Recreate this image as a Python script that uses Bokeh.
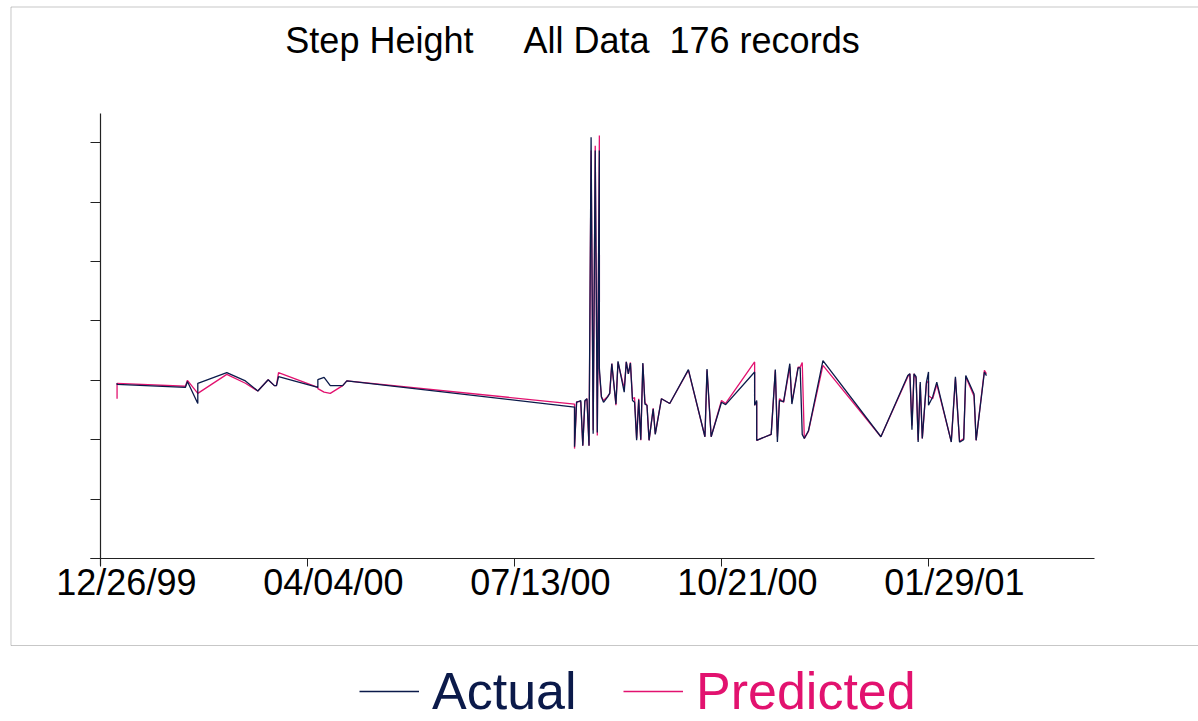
import pandas as pd
from bokeh.plotting import figure
from bokeh.models import (Range1d, LinearAxis, FixedTicker, BoxAnnotation, Label,
                          Legend, LegendItem, ColumnDataSource)
from bokeh.embed import file_html
from bokeh.resources import INLINE

# ---------------- data ----------------
dates = [
    "2000-01-03", "2000-01-03", "2000-02-05", "2000-02-06", "2000-02-11", "2000-02-11",
    "2000-02-25", "2000-03-05", "2000-03-11", "2000-03-16", "2000-03-19", "2000-03-20",
    "2000-03-21", "2000-04-09", "2000-04-09", "2000-04-12", "2000-04-15", "2000-04-21",
    "2000-04-23", "2000-08-11", "2000-08-11", "2000-08-12", "2000-08-14", "2000-08-15",
    "2000-08-16", "2000-08-17", "2000-08-18", "2000-08-19", "2000-08-20", "2000-08-21",
    "2000-08-22", "2000-08-23", "2000-08-23", "2000-08-24", "2000-08-25", "2000-08-27",
    "2000-08-28", "2000-08-29", "2000-08-31", "2000-09-01", "2000-09-04", "2000-09-05",
    "2000-09-06", "2000-09-07", "2000-09-08", "2000-09-09", "2000-09-10", "2000-09-11",
    "2000-09-12", "2000-09-13", "2000-09-14", "2000-09-15", "2000-09-16", "2000-09-18",
    "2000-09-19", "2000-09-22", "2000-09-26", "2000-10-05", "2000-10-13", "2000-10-14",
    "2000-10-16", "2000-10-21", "2000-10-23", "2000-11-06", "2000-11-06", "2000-11-07",
    "2000-11-07", "2000-11-14", "2000-11-16", "2000-11-17", "2000-11-18", "2000-11-20",
    "2000-11-23", "2000-11-24", "2000-11-27", "2000-11-28", "2000-11-29", "2000-11-30",
    "2000-12-02", "2000-12-09", "2001-01-06", "2001-01-19", "2001-01-20", "2001-01-21",
    "2001-01-22", "2001-01-23", "2001-01-24", "2001-01-25", "2001-01-26", "2001-01-28",
    "2001-01-29", "2001-01-29", "2001-01-31", "2001-02-02", "2001-02-09", "2001-02-11",
    "2001-02-13", "2001-02-15", "2001-02-16", "2001-02-20", "2001-02-21", "2001-02-25",
    "2001-02-26",
]
actual = [
    2.95, 2.93, 2.88, 2.98, 2.61, 2.95,
    3.13, 2.99, 2.82, 3.01, 2.91, 2.91,
    3.06, 2.88, 3.01, 3.05, 2.91, 2.91,
    2.99, 2.55, 1.88, 2.63, 2.66, 1.90,
    2.66, 2.69, 1.90, 7.09, 2.10, 6.87,
    2.12, 6.87, 3.20, 2.72, 2.63, 2.72,
    2.78, 3.28, 2.60, 3.32, 2.80, 3.31,
    3.11, 3.29, 2.66, 2.63, 1.99, 2.67,
    2.00, 3.29, 2.60, 2.58, 1.99, 2.52,
    2.09, 2.69, 2.61, 3.18, 2.05, 3.19,
    2.05, 2.63, 2.59, 3.14, 2.58, 2.66,
    1.99, 2.09, 3.18, 1.96, 2.66, 2.64,
    3.28, 2.60, 3.21, 3.21, 2.09, 2.02,
    2.15, 3.33, 2.05, 3.08, 3.11, 2.17,
    3.11, 3.06, 1.96, 2.97, 2.02, 2.97,
    3.14, 2.58, 2.72, 2.97, 1.96, 3.06,
    1.96, 2.00, 3.08, 2.77, 1.99, 3.14,
    3.08,
]
predicted = [
    2.69, 2.95, 2.90, 3.00, 2.78, 2.78,
    3.10, 2.95, 2.82, 3.01, 2.91, 2.91,
    3.13, 2.88, 2.86, 2.80, 2.78, 2.91,
    2.99, 2.60, 1.85, 2.64, 2.64, 1.90,
    2.64, 2.69, 1.90, 6.87, 2.16, 6.95,
    2.07, 7.12, 3.13, 2.72, 2.66, 2.73,
    2.78, 3.28, 2.58, 3.30, 2.86, 3.31,
    3.11, 3.30, 2.69, 2.71, 2.02, 2.69,
    1.99, 3.28, 2.63, 2.58, 1.99, 2.53,
    2.10, 2.69, 2.61, 3.17, 2.05, 3.17,
    2.05, 2.66, 2.61, 3.31, 2.58, 2.64,
    1.99, 2.09, 3.17, 2.05, 2.69, 2.63,
    3.23, 2.63, 3.22, 3.22, 3.30, 2.02,
    2.14, 3.25, 2.05, 3.06, 3.11, 2.24,
    3.11, 3.03, 1.99, 2.93, 2.02, 2.95,
    2.99, 2.74, 2.69, 2.93, 1.97, 3.03,
    1.97, 2.02, 3.06, 2.73, 1.99, 3.17,
    3.11,
]
tick_dates = ["1999-12-26", "2000-04-04", "2000-07-13", "2000-10-21", "2001-01-29"]
tick_labels = ["12/26/99", "04/04/00", "07/13/00", "10/21/00", "01/29/01"]
y_ticks = [0, 1, 2, 3, 4, 5, 6, 7]

title_text = "Step Height" + "\u00a0" * 5 + "All Data" + "\u00a0" * 2 + "176 records"

NAVY = "#0b1a4a"
PINK = "#e2126f"
FONT = "Liberation Sans"

# ---------------- derived ----------------
origin = pd.Timestamp(tick_dates[0])
day = [(pd.Timestamp(d) - origin).days for d in dates]
tick_pos = [(pd.Timestamp(d) - origin).days for d in tick_dates]
label_pos = [t + 12.5 for t in tick_pos]

src = ColumnDataSource(dict(day=day, actual=actual, predicted=predicted))

W, H = 1198, 721
p = figure(width=W, height=H, output_backend="svg", toolbar_location=None,
           x_axis_type=None, y_axis_type=None, title=None,
           x_range=Range1d(-48.31, 530.43), y_range=Range1d(-2.744, 9.394),
           min_border_left=0, min_border_right=0, min_border_top=0,
           min_border_bottom=0)
p.outline_line_color = None
p.background_fill_color = "white"
p.border_fill_color = "white"

# outer box (its right side runs past the page edge)
p.add_layout(BoxAnnotation(left=-43.24, right=700, top=9.2845, bottom=-1.4646,
                           fill_alpha=0, line_color="#444444", line_width=1))

r_pred = p.line("day", "predicted", source=src, line_color=PINK, line_width=1.3)
r_act = p.line("day", "actual", source=src, line_color=NAVY, line_width=1.3)

xaxis = LinearAxis(
    fixed_location=0, bounds=(-4.8, 480),
    ticker=FixedTicker(ticks=label_pos, minor_ticks=tick_pos),
    major_label_overrides={pos: lab for pos, lab in zip(label_pos, tick_labels)},
    major_tick_line_color=None, major_tick_in=0, major_tick_out=0,
    minor_tick_in=0, minor_tick_out=8, minor_tick_line_color="#222222",
    axis_line_color="#222222", axis_line_width=1.2,
    major_label_text_font=FONT, major_label_text_font_size="36px",
    major_label_text_color="black", major_label_standoff=-5)
p.add_layout(xaxis, "below")

yaxis = LinearAxis(
    fixed_location=0, bounds=(-0.118, 7.49),
    ticker=FixedTicker(ticks=y_ticks),
    major_label_overrides={t: "" for t in y_ticks},
    major_tick_in=0, major_tick_out=10, major_tick_line_color="#222222",
    minor_tick_line_color=None, axis_line_color="#222222", axis_line_width=1.2)
p.add_layout(yaxis, "left")

p.add_layout(Label(x=572, y=H - 40, x_units="screen", y_units="screen", text=title_text,
                   text_align="center", text_baseline="alphabetic", text_font=FONT,
                   text_font_size="36px", text_color="black"))

common = dict(orientation="horizontal", glyph_width=60, glyph_height=20, label_standoff=13,
              label_text_font=FONT, label_text_font_size="52px",
              border_line_color=None, background_fill_alpha=0, padding=0, margin=0, spacing=0)
leg1 = Legend(items=[LegendItem(label="Actual", renderers=[r_act])], location=(359, 0),
              label_text_color=NAVY, **common)
leg2 = Legend(items=[LegendItem(label="Predicted", renderers=[r_pred])], location=(623, 0),
              label_text_color=PINK, **common)
p.add_layout(leg1, "center")
p.add_layout(leg2, "center")

open("out.html", "w").write(file_html(p, INLINE))
